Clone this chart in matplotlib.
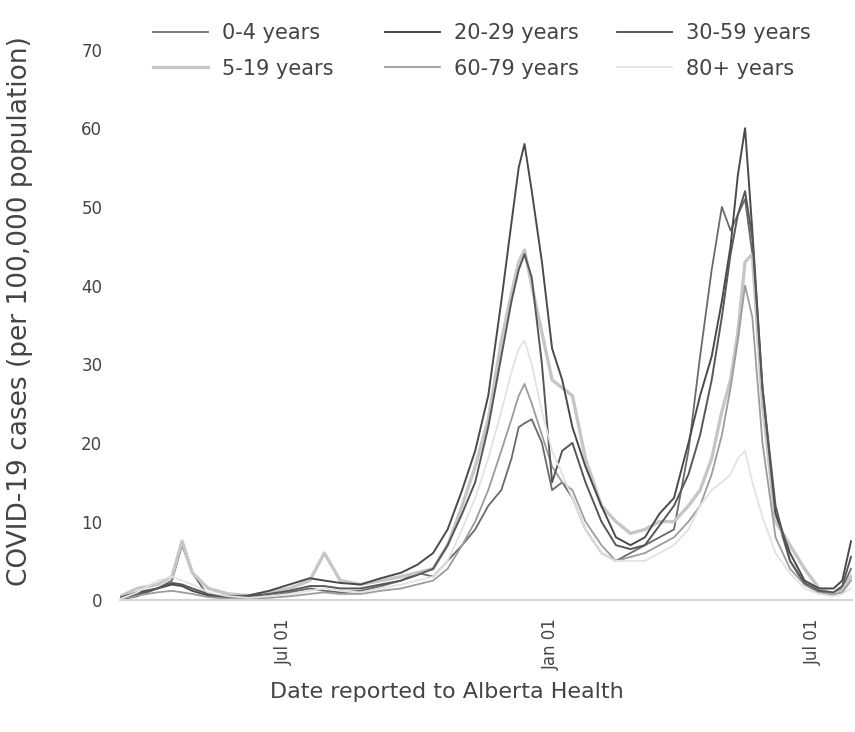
import numpy as np
import pandas as pd
import matplotlib
matplotlib.use('Agg')
import matplotlib.pyplot as plt
import matplotlib.dates as mdates

# sample dates
dates = ['2020-03-08', '2020-03-22', '2020-04-05', '2020-04-15', '2020-04-22',
         '2020-04-29', '2020-05-10', '2020-05-24', '2020-06-07', '2020-06-21',
         '2020-07-05', '2020-07-19', '2020-07-29', '2020-08-09', '2020-08-23',
         '2020-09-06', '2020-09-20', '2020-10-01', '2020-10-12', '2020-10-22',
         '2020-11-01', '2020-11-10', '2020-11-19', '2020-11-28', '2020-12-05',
         '2020-12-10', '2020-12-14', '2020-12-19', '2020-12-26', '2021-01-02',
         '2021-01-09', '2021-01-16', '2021-01-25', '2021-02-05', '2021-02-15',
         '2021-02-25', '2021-03-07', '2021-03-17', '2021-03-27', '2021-04-06',
         '2021-04-14', '2021-04-22', '2021-04-29', '2021-05-05', '2021-05-10',
         '2021-05-15', '2021-05-20', '2021-05-27', '2021-06-05', '2021-06-15',
         '2021-06-25', '2021-07-05', '2021-07-15', '2021-07-21', '2021-07-27']

age_0_4 = [0.0, 0.5, 1.5, 2.5, 7.0, 3.5, 0.5, 0.3, 0.3, 0.5,
           1.0, 1.5, 1.2, 1.0, 1.2, 1.8, 2.5, 3.5, 3.0, 5.0,
           7.0, 9.0, 12, 14, 18, 22, 22.5, 23, 20, 14,
           15, 13, 9, 6, 5, 6, 7, 8, 9, 19,
           31, 42, 50, 47, 49, 51, 44, 26, 11, 5,
           2, 1, 0.8, 1.5, 4]
age_5_19 = [0.3, 1.5, 2.0, 3.0, 7.5, 3.5, 1.5, 0.8, 0.6, 1.0,
            1.5, 2.5, 6.0, 2.5, 2.0, 2.5, 3.0, 3.5, 4.0, 7.0,
            12, 17, 23, 33, 39, 43, 44.5, 40, 34, 28,
            27, 26, 18, 12, 10, 8.5, 9, 10, 10, 12,
            14, 18, 24, 28, 34, 43, 44, 25, 10, 7,
            4, 1.5, 0.8, 1.2, 3]
age_20_29 = [0.2, 1.0, 1.5, 2.0, 1.8, 1.2, 0.6, 0.4, 0.6, 1.2,
             2.0, 2.8, 2.5, 2.2, 2.0, 2.8, 3.5, 4.5, 6.0, 9.0,
             14, 19, 26, 38, 48, 55, 58, 52, 43, 32,
             28, 22, 17, 12, 8, 7, 8, 11, 13, 20,
             26, 31, 38, 45, 54, 60, 47, 27, 11, 6,
             2.5, 1.5, 1.5, 2.5, 7.5]
age_30_59 = [0.2, 0.8, 1.5, 2.2, 2.0, 1.5, 0.8, 0.5, 0.5, 0.8,
             1.2, 1.8, 1.8, 1.5, 1.5, 2.0, 2.5, 3.2, 4.0, 7.0,
             11, 15, 22, 31, 38, 42, 44, 41, 30, 15,
             19, 20, 15, 10, 7, 6.5, 7, 9.5, 12, 16,
             21, 28, 36, 44, 49, 52, 46, 27, 12, 5,
             2.2, 1.2, 1.0, 1.8, 5.5]
age_60_79 = [0.1, 0.6, 1.0, 1.2, 1.0, 0.8, 0.4, 0.2, 0.2, 0.3,
             0.5, 0.8, 1.0, 0.8, 0.8, 1.2, 1.5, 2.0, 2.5, 4.0,
             7, 10, 14, 19, 23, 26, 27.5, 25, 21, 17,
             15, 14, 10, 7, 5, 5.5, 6, 7, 8, 10,
             12, 16, 21, 27, 33, 40, 36, 20, 8, 4,
             2, 1, 0.7, 1.0, 2.5]
age_80 = [0.0, 1.0, 2.5, 3.0, 2.5, 2.0, 1.0, 0.5, 0.3, 0.5,
          0.8, 1.2, 1.5, 1.2, 1.0, 1.5, 2.0, 2.5, 3.0, 5.0,
          9, 13, 18, 24, 29, 32, 33, 30, 24, 19,
          16, 13, 9, 6, 5, 5, 5, 6, 7, 9,
          12, 14, 15, 16, 18, 19, 15, 10.6, 6, 3.4,
          1.5, 0.8, 0.5, 0.8, 1.5]

labels = ['0-4 years', '5-19 years', '20-29 years', '60-79 years', '30-59 years', '80+ years']
series = [age_0_4, age_5_19, age_20_29, age_60_79, age_30_59, age_80]
colors = ['#6a6a6a', '#c6c6c6', '#4a4a4a', '#9c9c9c', '#575757', '#e2e2e2']
widths = [1.3, 2.4, 1.4, 1.3, 1.4, 1.3]

x = pd.to_datetime(dates)

plt.rcParams['font.family'] = 'DejaVu Sans'
fig = plt.figure(figsize=(8.55, 7.32), dpi=100)
ax = fig.add_axes([0.140, 0.180, 0.857, 0.806])

lines = []
for s, lab, c, w in zip(series, labels, colors, widths):
    l, = ax.plot(x, s, color=c, linewidth=w, label=lab)
    lines.append(l)

ax.set_ylim(0, 75)
ax.set_xlim(pd.Timestamp('2020-03-10'), pd.Timestamp('2021-07-28'))
ax.set_yticks(np.arange(0, 80, 10))
ax.set_xticks(pd.to_datetime(['2020-07-01', '2021-01-01', '2021-07-01']))
ax.xaxis.set_major_formatter(mdates.DateFormatter('%b %d'))
ax.tick_params(axis='both', length=0, labelsize=12, colors='#444444')
ax.tick_params(axis='y', pad=12.5)
ax.tick_params(axis='x', pad=13, labelrotation=90)
for sp in ['top', 'right', 'left']:
    ax.spines[sp].set_visible(False)
ax.spines['bottom'].set_color('#d4d4d4')
ax.spines['bottom'].set_linewidth(1.5)

ax.set_ylabel('COVID-19 cases (per 100,000 population)', fontsize=19, color='#444444')
ax.yaxis.set_label_coords(-0.140 + 16 / 732, 0.49)
ax.set_xlabel('Date reported to Alberta Health', fontsize=16, color='#444444')
ax.xaxis.set_label_coords((447 - 120) / 732, -0.138)

# one legend per column, placed where the reference has them
col_x = [153, 385, 617]
for i, cx in enumerate(col_x):
    fig.legend(handles=lines[2 * i:2 * i + 2], loc='upper left',
               bbox_to_anchor=(cx / 855, 1 - 23 / 732), frameon=False,
               fontsize=15, handlelength=2.65, handletextpad=0.67,
               labelspacing=0.75, borderpad=0, borderaxespad=0,
               labelcolor='#444444')

fig.savefig('out.png', dpi=100)
